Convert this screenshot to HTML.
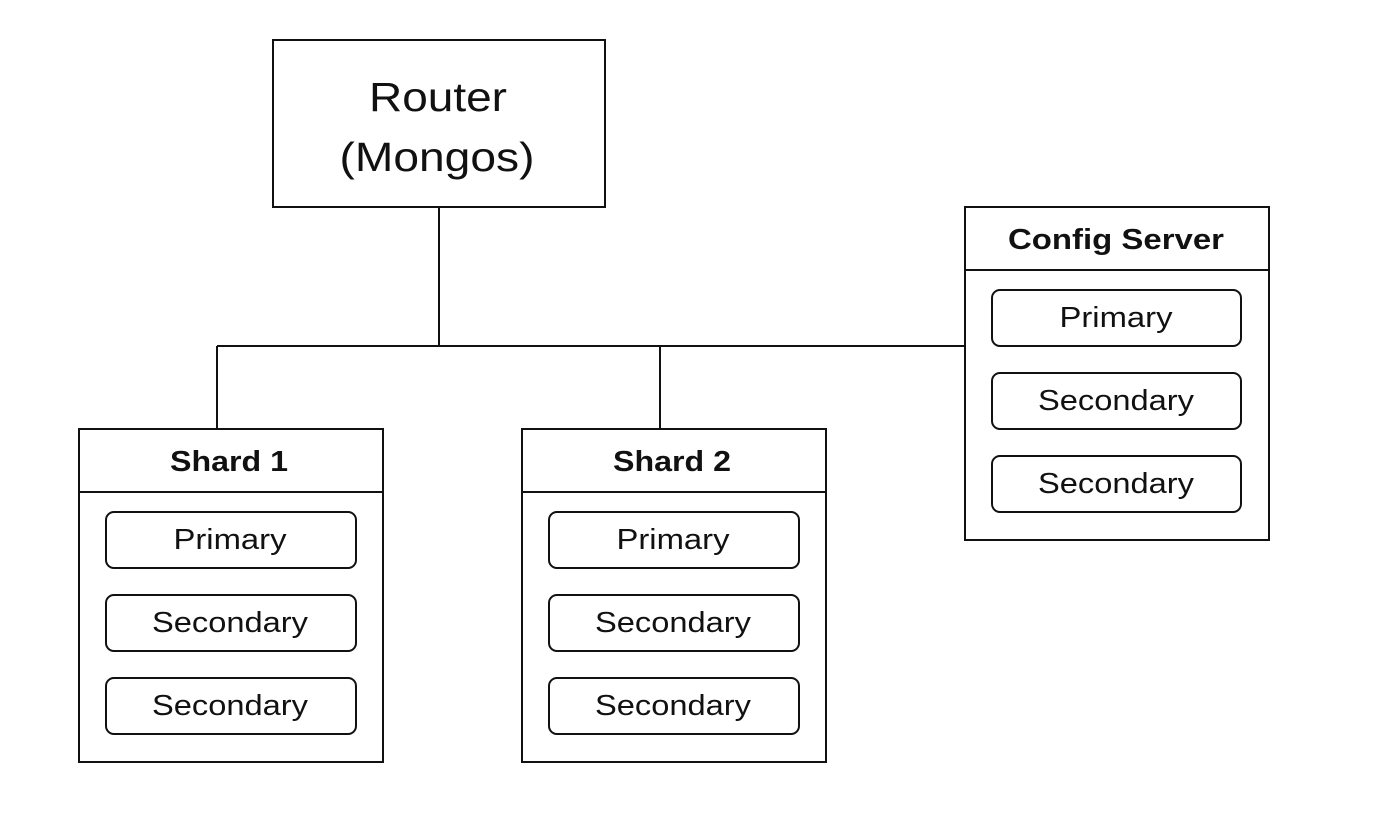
<!DOCTYPE html>
<html><head><style>html,body{margin:0;padding:0;background:#fff;}svg{display:block}</style></head>
<body>
<svg width="1396" height="840" viewBox="0 0 1396 840" xmlns="http://www.w3.org/2000/svg" font-family="'Liberation Sans', sans-serif">
<g stroke="#111" stroke-width="2" fill="none">
<rect x="273" y="40" width="332" height="167" fill="#fff"/>
<line x1="439" y1="207" x2="439" y2="346"/>
<line x1="217" y1="346" x2="965" y2="346"/>
<line x1="217" y1="346" x2="217" y2="429"/>
<line x1="660" y1="346" x2="660" y2="429"/>
</g>
<text x="438" y="111" font-size="41" text-anchor="middle" fill="#111" textLength="138" lengthAdjust="spacingAndGlyphs">Router</text>
<text x="437" y="171" font-size="41" text-anchor="middle" fill="#111" textLength="195" lengthAdjust="spacingAndGlyphs">(Mongos)</text>

<g stroke="#111" stroke-width="2" fill="#fff">
<rect x="79" y="429" width="304" height="333"/>
<line x1="79" y1="492" x2="383" y2="492"/>
<rect x="106" y="512" width="250" height="56" rx="8"/>
<rect x="106" y="595" width="250" height="56" rx="8"/>
<rect x="106" y="678" width="250" height="56" rx="8"/>
</g>
<g font-size="29" text-anchor="middle" fill="#111" lengthAdjust="spacingAndGlyphs">
<text x="229" y="471" font-weight="bold" textLength="118" lengthAdjust="spacingAndGlyphs">Shard 1</text>
<text x="230" y="549" textLength="113" lengthAdjust="spacingAndGlyphs">Primary</text>
<text x="230" y="632" textLength="156" lengthAdjust="spacingAndGlyphs">Secondary</text>
<text x="230" y="715" textLength="156" lengthAdjust="spacingAndGlyphs">Secondary</text>
</g>

<g stroke="#111" stroke-width="2" fill="#fff">
<rect x="522" y="429" width="304" height="333"/>
<line x1="522" y1="492" x2="826" y2="492"/>
<rect x="549" y="512" width="250" height="56" rx="8"/>
<rect x="549" y="595" width="250" height="56" rx="8"/>
<rect x="549" y="678" width="250" height="56" rx="8"/>
</g>
<g font-size="29" text-anchor="middle" fill="#111">
<text x="672" y="471" font-weight="bold" textLength="118" lengthAdjust="spacingAndGlyphs">Shard 2</text>
<text x="673" y="549" textLength="113" lengthAdjust="spacingAndGlyphs">Primary</text>
<text x="673" y="632" textLength="156" lengthAdjust="spacingAndGlyphs">Secondary</text>
<text x="673" y="715" textLength="156" lengthAdjust="spacingAndGlyphs">Secondary</text>
</g>

<g stroke="#111" stroke-width="2" fill="#fff">
<rect x="965" y="207" width="304" height="333"/>
<line x1="965" y1="270" x2="1269" y2="270"/>
<rect x="992" y="290" width="249" height="56" rx="8"/>
<rect x="992" y="373" width="249" height="56" rx="8"/>
<rect x="992" y="456" width="249" height="56" rx="8"/>
</g>
<g font-size="29" text-anchor="middle" fill="#111">
<text x="1116" y="249" font-weight="bold" textLength="216" lengthAdjust="spacingAndGlyphs">Config Server</text>
<text x="1116" y="327" textLength="113" lengthAdjust="spacingAndGlyphs">Primary</text>
<text x="1116" y="410" textLength="156" lengthAdjust="spacingAndGlyphs">Secondary</text>
<text x="1116" y="493" textLength="156" lengthAdjust="spacingAndGlyphs">Secondary</text>
</g>
</svg>
</body></html>
